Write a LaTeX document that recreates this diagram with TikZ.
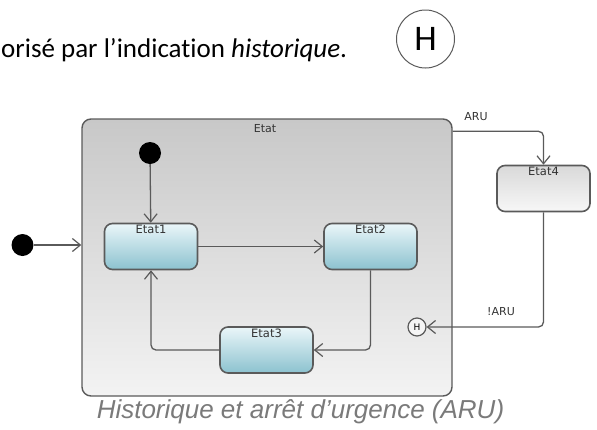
\documentclass[tikz,border=0pt]{standalone}
\usepackage{fontspec}
\newfontfamily\carlito[Ligatures=NoCommon]{Carlito}
\newfontfamily\dejavu{DejaVu Sans}
\newfontfamily\libsans{Liberation Sans}
\usetikzlibrary{arrows.meta}
\definecolor{edge}{HTML}{5A5A5A}
\definecolor{capgray}{HTML}{7A7A7A}
\definecolor{cyanA}{HTML}{EAF6F9}
\definecolor{cyanB}{HTML}{8CC2CF}
\definecolor{grayA}{HTML}{D9D9D9}
\definecolor{grayB}{HTML}{F7F7F7}
\definecolor{outerA}{HTML}{C8C8C8}
\definecolor{outerB}{HTML}{F3F3F3}
\tikzset{
  conn/.style={draw=edge, line width=1.3pt, rounded corners=5pt,
    -{Straight Barb[length=8pt,width=13pt,line width=1.2pt]}},
  statebox/.style={draw=edge, line width=1.6pt, rounded corners=8pt,
    minimum width=93pt, minimum height=46pt, inner sep=0pt, top color=#1},
  bluestate/.style={statebox=cyanA, bottom color=cyanB},
  graystate/.style={statebox=grayA, bottom color=grayB},
  initdot/.style={circle, fill=black, minimum size=22pt, inner sep=0pt},
  lbl/.style={font=\dejavu\fontsize{11}{13}\selectfont, text=black!80},
  stlbl/.style={anchor=north, inner sep=2.5pt, font=\dejavu\fontsize{11.5}{13}\selectfont, text=black!80},
}
\begin{document}
\begin{tikzpicture}[x=1pt,y=-1pt]
\useasboundingbox (0,0) rectangle (597,429);
% header text
\node[anchor=base west, inner sep=0pt, font=\carlito\fontsize{27}{31}\selectfont] (head) at (1,57) {orisé par l’indication \textit{historique}.};
\node[draw=edge, line width=1pt, circle, minimum size=58pt, inner sep=0pt, font=\carlito\fontsize{36}{40}\selectfont] (bigH) at (425.5,39) {H};
% outer composite state
\node[draw=edge, line width=1.4pt, rounded corners=9pt, minimum width=370pt, minimum height=277pt,
      top color=outerA, bottom color=outerB, inner sep=0pt] (etat) at (267,257.5) {};
\node[lbl] (etatlbl) at (265,129) {Etat};
% inner states
\node[initdot] (init1) at (150,153) {};
\node[initdot] (init2) at (22.5,245) {};
\node[bluestate, label={[stlbl]north:Etat1}] (e1) at (151,246.5) {};
\node[bluestate, label={[stlbl]north:Etat2}] (e2) at (370.5,246.5) {};
\node[bluestate, label={[stlbl]north:Etat3}] (e3) at (266.5,350) {};
\node[graystate, label={[stlbl]north:Etat4}] (e4) at (543.5,188.5) {};
\node[draw=edge, line width=1.2pt, circle, minimum size=18pt, inner sep=0pt, fill=white!92!gray,
      font=\dejavu\fontsize{9}{10}\selectfont] (hs) at (417,327) {H};
% connectors
\draw[conn] (init1) -- (e1);
\draw[conn] (init2) -- (init2 -| etat.west);
\draw[conn] (e1) -- (e2);
\draw[conn] (e2) |- (e3);
\draw[conn] (e3) -| (e1);
\draw[conn] ([yshift=-13pt]etat.north east) -| (e4);
\draw[conn] (e4) |- (hs);
\node[lbl] (aru) at (476,117) {ARU};
\node[lbl] (naru) at (501,312) {!ARU};
% caption
\node[font=\libsans\itshape\fontsize{26}{30}\selectfont, text=capgray] (cap) at (300.5,412) {Historique et arrêt d’urgence (ARU)};
\end{tikzpicture}
\end{document}
